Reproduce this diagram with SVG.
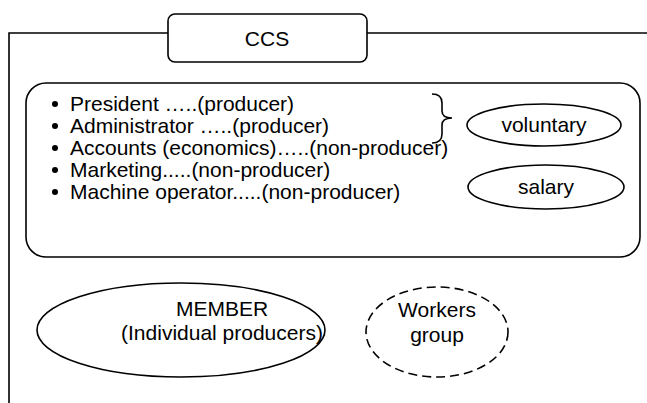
<svg xmlns="http://www.w3.org/2000/svg" width="647" height="403" viewBox="0 0 647 403">
  <style>
    .shape { fill: #fff; stroke: #000; stroke-width: 1.6; }
    .line { fill: none; stroke: #000; stroke-width: 1.6; }
    .dashed { stroke-dasharray: 9 5; }
    text { font-family: "Liberation Sans", Arial, sans-serif; font-size: 21px; fill: #000; }
    .mid { text-anchor: middle; }
  </style>
  <rect width="647" height="403" fill="#fff"/>

  <!-- outer frame lines -->
  <g id="connectors">
    <polyline class="line" points="9,403 9,33 168,33"/>
    <line class="line" x1="367" y1="33" x2="647" y2="33"/>
  </g>

  <g id="ccs">
    <rect class="shape" x="168" y="14" width="199" height="48" rx="7"/>
    <text class="mid" x="267" y="46">CCS</text>
  </g>

  <g id="roles">
    <rect class="shape" x="26" y="83" width="614" height="174" rx="20"/>
    <circle cx="55" cy="104" r="3"/>
    <text x="70" y="111">President …..(producer)</text>
    <circle cx="55" cy="126" r="3"/>
    <text x="70" y="133">Administrator …..(producer)</text>
    <circle cx="55" cy="148" r="3"/>
    <text x="70" y="155">Accounts (economics)…..(non-producer)</text>
    <circle cx="55" cy="170" r="3"/>
    <text x="70" y="177">Marketing.....(non-producer)</text>
    <circle cx="55" cy="192" r="3"/>
    <text x="70" y="199">Machine operator.....(non-producer)</text>
    <!-- brace grouping the first two roles -->
    <path class="line" d="M432,94 Q442,94 442,103 L442,111 Q442,118 452,118 Q442,118 442,125 L442,134 Q442,143 432,143"/>
  </g>

  <g id="voluntary">
    <ellipse class="shape" cx="544" cy="125" rx="77" ry="21"/>
    <text class="mid" x="544" y="132">voluntary</text>
  </g>

  <g id="salary">
    <ellipse class="shape" cx="546" cy="187" rx="78" ry="22"/>
    <text class="mid" x="546" y="194">salary</text>
  </g>

  <g id="member">
    <ellipse class="shape" cx="181" cy="330" rx="144" ry="47"/>
    <text class="mid" x="222" y="316">MEMBER</text>
    <text class="mid" x="222" y="340">(Individual producers)</text>
  </g>

  <g id="workers">
    <ellipse class="shape dashed" cx="437" cy="332" rx="71" ry="45"/>
    <text class="mid" x="437" y="317">Workers</text>
    <text class="mid" x="437" y="342">group</text>
  </g>
</svg>
